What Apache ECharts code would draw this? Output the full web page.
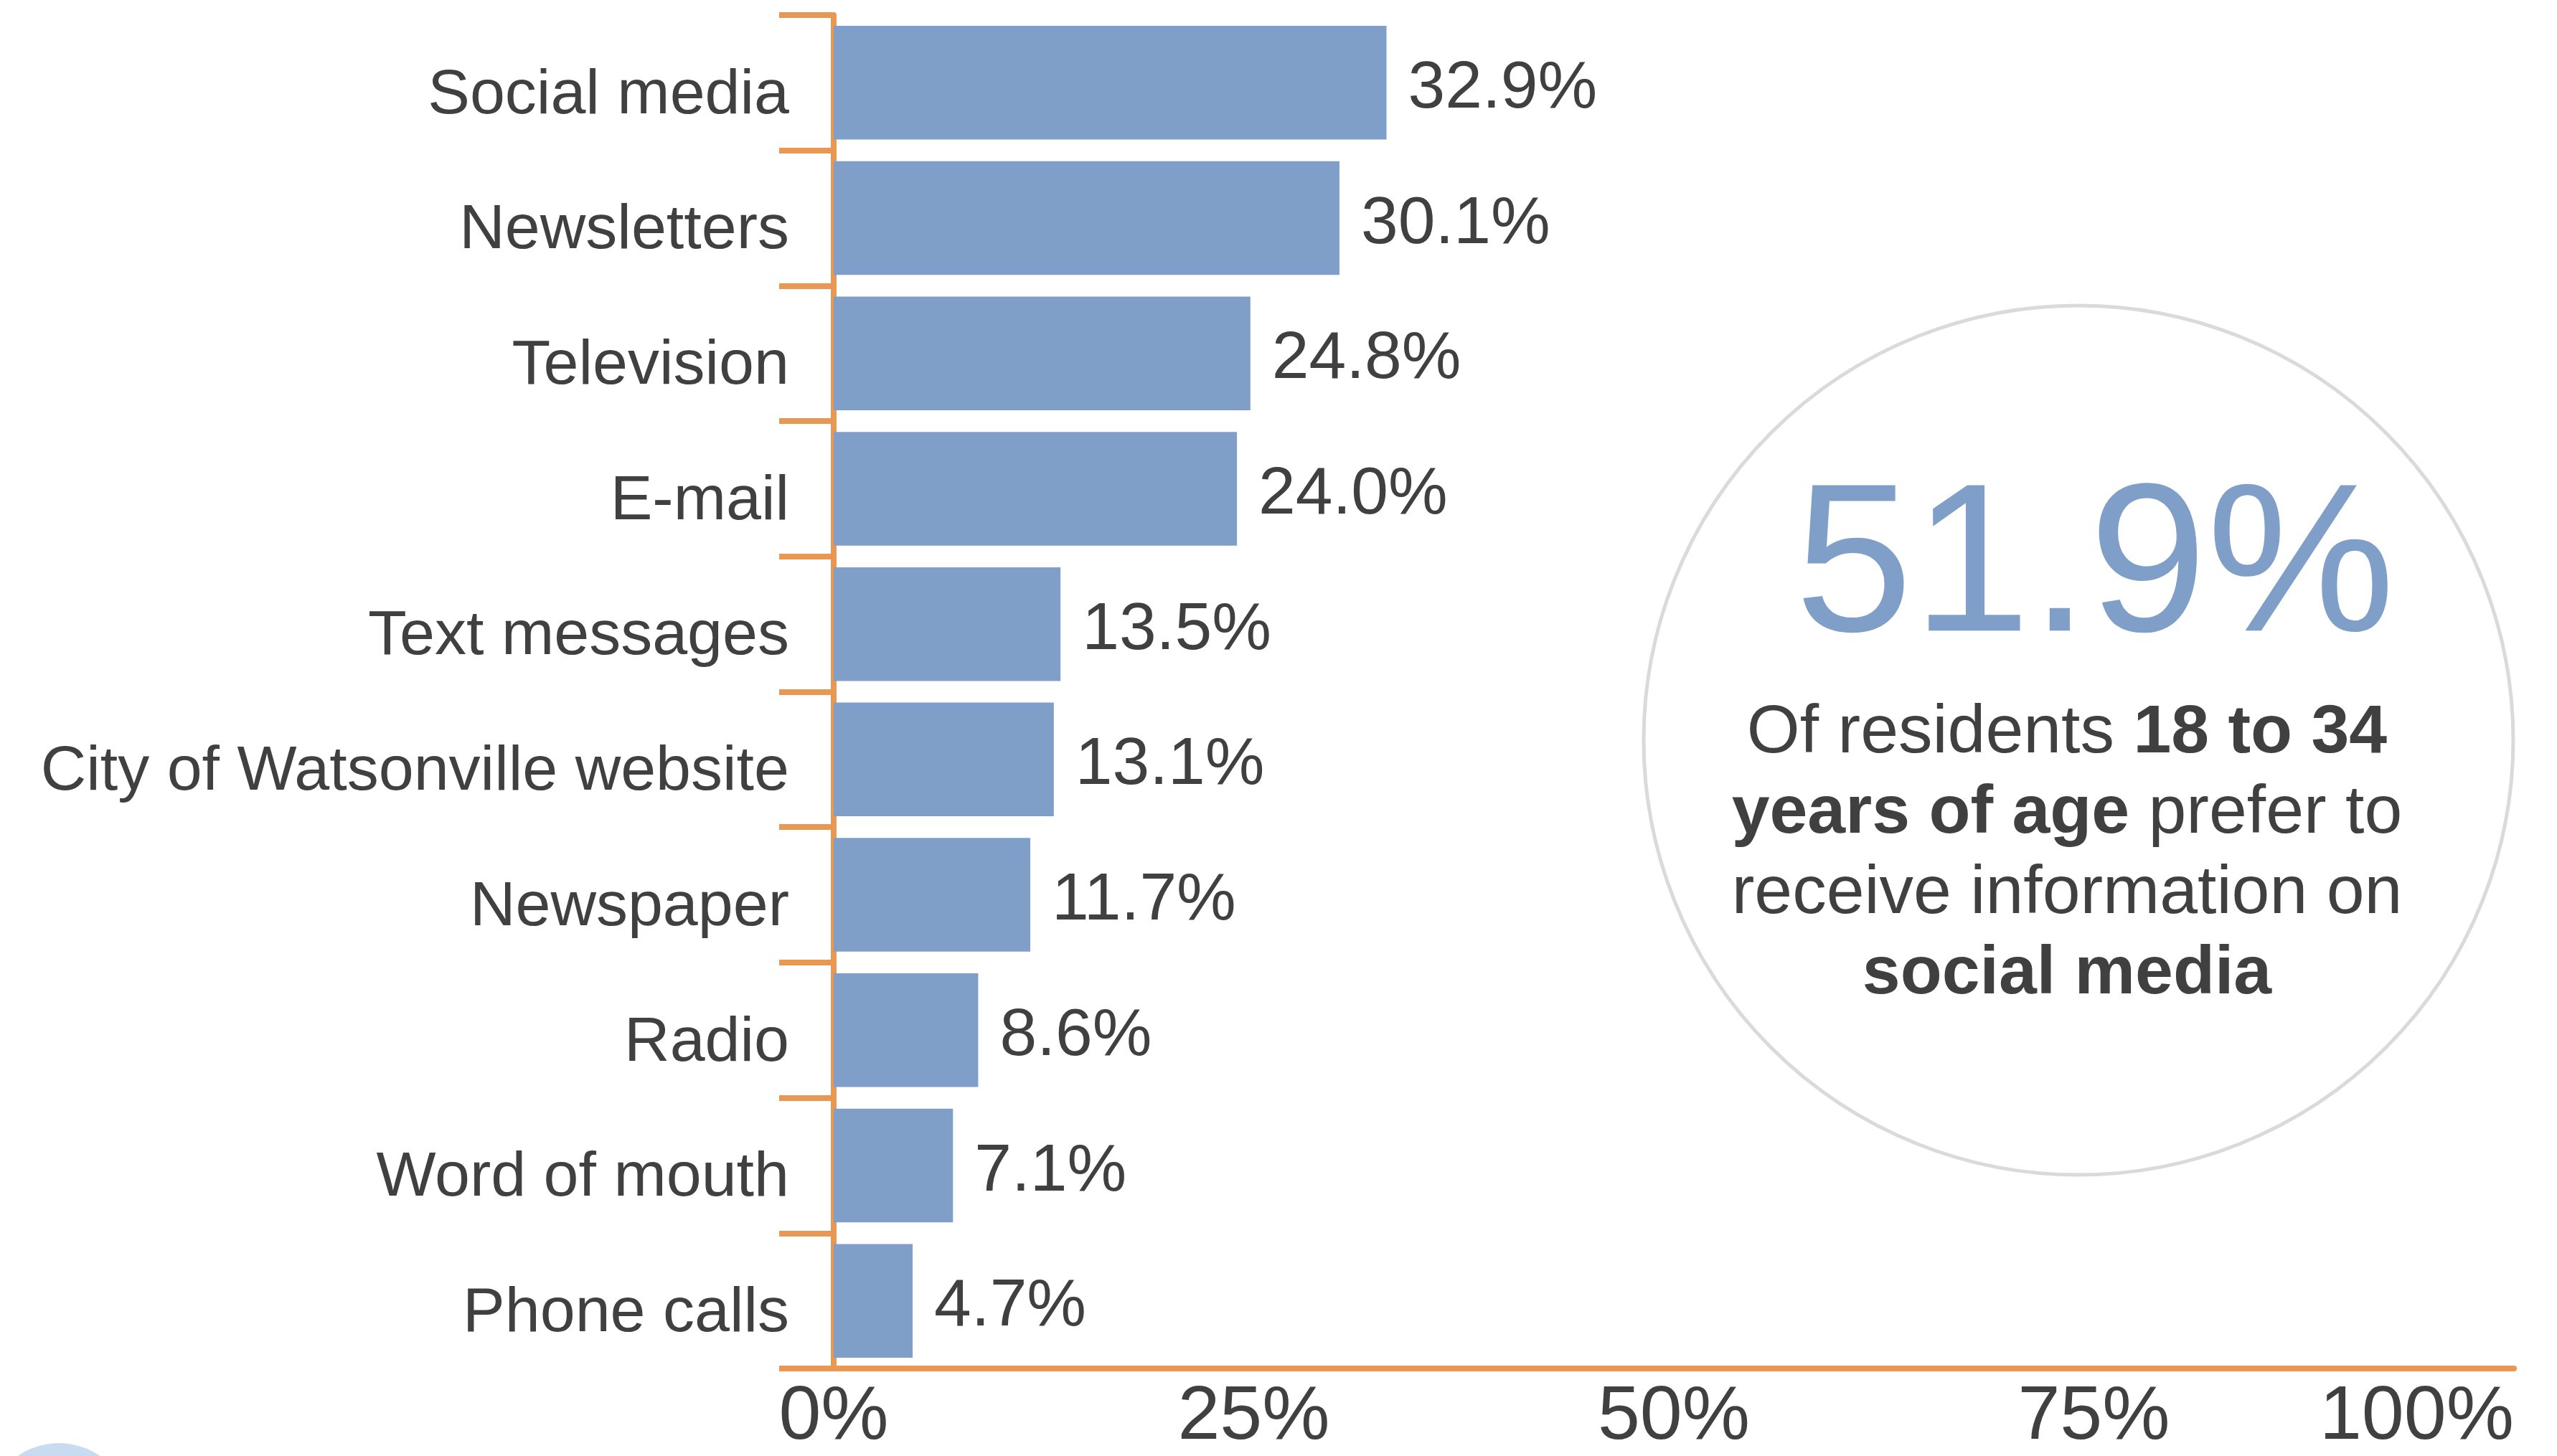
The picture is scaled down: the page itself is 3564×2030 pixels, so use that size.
<!DOCTYPE html>
<html>
<head>
<meta charset="utf-8">
<title>Preferred information channels</title>
<script src="https://cdn.jsdelivr.net/npm/echarts@6/dist/echarts.min.js"></script>
<style>
  html, body { margin: 0; padding: 0; background: #ffffff; }
  #chart { width: 3564px; height: 2030px; }
</style>
</head>
<body>
<div id="chart"></div>
<script>
// Channels, top to bottom
const categories = [
  'Social media', 'Newsletters', 'Television', 'E-mail', 'Text messages',
  'City of Watsonville website', 'Newspaper', 'Radio', 'Word of mouth', 'Phone calls'
];
// Share of respondents preferring each channel (%)
const values = [32.9, 30.1, 24.8, 24.0, 13.5, 13.1, 11.7, 8.6, 7.1, 4.7];

// Value axis range and step (%)
const axisMin = 0;
const axisMax = 100;
const axisStep = 25;

// Callout figures
const calloutValue = 51.9;
const calloutLines = [
  [['n', 'Of residents '], ['b', '18 to 34']],
  [['b', 'years of age'], ['n', ' prefer to']],
  [['n', 'receive information on']],
  [['b', 'social media']]
];

const FONT = '"Liberation Sans", Arial, Helvetica, sans-serif';
const TEXT = '#404040';
const ORANGE = '#E99853';
const BLUE = '#7F9FC9';

const chart = echarts.init(document.getElementById('chart'), null, { renderer: 'canvas' });

const calloutText = calloutLines
  .map(line => line.map(([k, t]) => '{' + k + '|' + t + '}').join(''))
  .join('\n');

const option = {
  backgroundColor: '#ffffff',
  animation: false,
  grid: { left: 1162, right: 60, top: 21, bottom: 121, containLabel: false },
  xAxis: {
    type: 'value',
    min: axisMin,
    max: axisMax,
    interval: axisStep,
    axisLine: { show: true, lineStyle: { color: ORANGE, width: 8 } },
    axisTick: { show: false },
    splitLine: { show: false },
    axisLabel: {
      formatter: '{value}%',
      fontFamily: FONT,
      fontSize: 106,
      color: TEXT,
      margin: 16,
      alignMaxLabel: 'right'
    }
  },
  yAxis: {
    type: 'category',
    data: categories,
    inverse: true,
    axisLine: { show: true, lineStyle: { color: ORANGE, width: 8 } },
    axisTick: { show: true, length: 76, lineStyle: { color: ORANGE, width: 8 } },
    axisLabel: {
      fontFamily: FONT,
      fontSize: 88,
      color: TEXT,
      margin: 62,
      // category names sit a little below the bar centre
      formatter: v => '{c|' + v + '}',
      rich: {
        c: { fontFamily: FONT, fontSize: 88, color: TEXT, padding: [36, 0, 0, 0] }
      }
    }
  },
  series: [{
    type: 'bar',
    data: values,
    barCategoryGap: '16%',
    itemStyle: { color: BLUE },
    label: {
      show: true,
      position: 'right',
      distance: 30,
      offset: [0, 9],
      fontFamily: FONT,
      fontSize: 93,
      color: TEXT,
      formatter: p => p.value.toFixed(1) + '%'
    }
  }],
  graphic: [
    {
      type: 'circle',
      shape: { cx: 82, cy: 2112, r: 100 },
      style: { fill: '#C8DBF0' },
      silent: true
    },
    {
      type: 'circle',
      shape: { cx: 2897, cy: 1032, r: 606 },
      style: { fill: '#ffffff', stroke: '#DADADA', lineWidth: 5 },
      silent: true
    },
    {
      type: 'text',
      x: 2920,
      y: 798,
      style: {
        text: calloutValue.toFixed(1) + '%',
        fontFamily: FONT,
        fontSize: 295,
        fill: BLUE,
        align: 'center',
        verticalAlign: 'middle'
      },
      silent: true
    },
    {
      type: 'text',
      x: 2881,
      y: 1191,
      style: {
        text: calloutText,
        align: 'center',
        verticalAlign: 'middle',
        fontFamily: FONT,
        fontSize: 95,
        lineHeight: 112,
        fill: TEXT,
        rich: {
          n: { fontFamily: FONT, fontSize: 95, lineHeight: 112, fill: TEXT, align: 'center' },
          b: { fontFamily: FONT, fontSize: 95, lineHeight: 112, fill: TEXT, fontWeight: 'bold', align: 'center' }
        }
      },
      silent: true
    }
  ]
};

chart.setOption(option);
</script>
</body>
</html>
